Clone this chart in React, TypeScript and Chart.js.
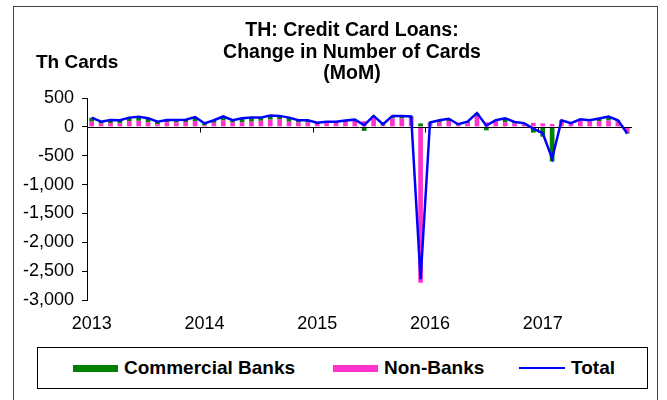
import React, { useEffect, useRef } from "react";
import { Chart, registerables } from "chart.js";

Chart.register(...registerables);

const YEARS = ["2013", "2014", "2015", "2016", "2017"];
const MONTHS = ["Jan", "Feb", "Mar", "Apr", "May", "Jun", "Jul", "Aug", "Sep", "Oct", "Nov", "Dec"];
const LAST_MONTH_2017 = 10;

const CATEGORIES: string[] = [];
YEARS.forEach((yr, yi) => {
  const n = yi === YEARS.length - 1 ? LAST_MONTH_2017 : 12;
  for (let m = 0; m < n; m++) CATEGORIES.push(`${MONTHS[m]} ${yr}`);
});

// Th Cards, month-on-month change
const COMMERCIAL = [
  70, 35, 55, 55, 60, 70, 70, 45, 40, 45, 40, 70,
  35, 45, 70, 40, 70, 70, 55, 70, 55, 70, 40, 40,
  20, 20, 20, 25, 20, -70, 40, 20, 45, 45, 25, 60,
  20, 40, 40, 20, 30, 50, -60, 20, 70, 25, 20, -100,
  -170, -600, 30, 10, 20, 20, 45, 70, 20, -20,
];
const NON_BANKS = [
  90, 55, 65, 60, 100, 105, 80, 45, 80, 75, 85, 100,
  25, 70, 110, 75, 80, 90, 105, 125, 135, 90, 75, 75,
  50, 70, 70, 85, 105, 100, 150, 25, 145, 145, 155, -2700,
  55, 75, 100, 25, 60, 190, 80, 95, 80, 60, 45, 70,
  60, 50, 85, 55, 110, 95, 100, 110, 95, -95,
];
const TOTAL = [
  160, 90, 120, 115, 160, 175, 150, 90, 120, 120, 125, 170,
  60, 115, 180, 115, 150, 160, 160, 195, 190, 160, 115, 115,
  70, 90, 90, 110, 125, 30, 190, 45, 190, 190, 180, -2640,
  75, 115, 140, 45, 90, 240, 20, 115, 150, 85, 65, -30,
  -110, -550, 115, 65, 130, 115, 145, 180, 115, -115,
];

const Y_MIN = -3000;
const Y_MAX = 500;
const Y_STEP = 500;

const TITLE_LINES = ["TH: Credit Card Loans:", "Change in Number of Cards", "(MoM)"];
const Y_UNIT = "Th Cards";

const GREEN = "#008000";
const PINK = "#FF33CC";
const BLUE = "#0000FF";
const FONT = "'Liberation Sans', Arial, sans-serif";

const zeroAxisPlugin = {
  id: "zeroAxis",
  afterDatasetDraw(chart: any, args: any) {
    if (args.index !== 1) return;
    const { ctx, chartArea, scales } = chart;
    const x = scales.x;
    const y = scales.y;
    const y0 = Math.round(y.getPixelForValue(0)) + 0.5;
    ctx.save();
    ctx.strokeStyle = "#000";
    ctx.lineWidth = 1;
    ctx.beginPath();
    ctx.moveTo(chartArea.left, y0);
    ctx.lineTo(chartArea.right, y0);
    for (let i = 12; i < CATEGORIES.length; i += 12) {
      const px = Math.round((x.getPixelForValue(i - 1) + x.getPixelForValue(i)) / 2) + 0.5;
      ctx.moveTo(px, y0);
      ctx.lineTo(px, y0 + 5);
    }
    ctx.stroke();
    ctx.restore();
  },
};

function ChartCanvas() {
  const ref = useRef<HTMLCanvasElement>(null);
  useEffect(() => {
    if (!ref.current) return;
    const chart = new Chart(ref.current, {
      type: "bar",
      data: {
        labels: CATEGORIES,
        datasets: [
          {
            type: "bar",
            label: "Commercial Banks",
            data: COMMERCIAL,
            backgroundColor: GREEN,
            barPercentage: 0.5,
            categoryPercentage: 1,
            order: 3,
          },
          {
            type: "bar",
            label: "Non-Banks",
            data: NON_BANKS,
            backgroundColor: PINK,
            barPercentage: 0.5,
            categoryPercentage: 1,
            order: 2,
          },
          {
            type: "line",
            label: "Total",
            data: TOTAL,
            borderColor: BLUE,
            borderWidth: 2.5,
            pointRadius: 0,
            tension: 0,
            fill: false,
            order: 1,
            stack: "total",
          } as any,
        ],
      },
      options: {
        animation: false,
        responsive: false,
        devicePixelRatio: 1,
        layout: { padding: { left: 0, right: 35, top: 98, bottom: 0 } },
        plugins: { legend: { display: false }, title: { display: false }, tooltip: { enabled: false } },
        scales: {
          x: {
            stacked: true,
            offset: true,
            grid: { display: false },
            border: { display: false },
            ticks: {
              autoSkip: false,
              maxRotation: 0,
              padding: 5,
              color: "#000",
              font: { family: FONT, size: 18 },
              callback: (_v: any, i: number) => (i % 12 === 0 ? YEARS[i / 12] : null),
            },
            afterFit: (s: any) => {
              s.height = 100;
            },
          },
          y: {
            stacked: true,
            min: Y_MIN,
            max: Y_MAX,
            ticks: {
              stepSize: Y_STEP,
              color: "#000",
              padding: 8,
              font: { family: FONT, size: 18 },
              callback: (v: any) => Number(v).toLocaleString("en-US"),
            },
            grid: { drawOnChartArea: false, tickLength: 5, color: "#000" },
            border: { color: "#000" },
            afterFit: (s: any) => {
              s.width = 87;
            },
          },
        },
      },
      plugins: [zeroAxisPlugin],
    });
    return () => chart.destroy();
  }, []);
  return (
    <canvas
      ref={ref}
      width={667}
      height={400}
      style={{ position: "absolute", left: 0, top: 0, width: 667, height: 400 }}
    />
  );
}

const legendText: React.CSSProperties = {
  position: "absolute",
  top: 0,
  lineHeight: "40px",
  fontWeight: "bold",
  fontSize: 19,
  fontFamily: FONT,
  color: "#000",
  whiteSpace: "nowrap",
};

export default function App() {
  return (
    <div
      style={{
        position: "fixed",
        left: 0,
        top: 0,
        width: 667,
        height: 400,
        background: "#fff",
        overflow: "hidden",
        fontFamily: FONT,
      }}
    >
      <div
        style={{
          position: "absolute",
          left: 13,
          top: 6,
          width: 645,
          height: 400,
          border: "1px solid #444",
          boxSizing: "border-box",
        }}
      />
      <ChartCanvas />
      <div
        style={{
          position: "absolute",
          left: 0,
          top: 19,
          width: 704,
          textAlign: "center",
          fontWeight: "bold",
          fontSize: 19.5,
          lineHeight: "21.5px",
          color: "#000",
        }}
      >
        {TITLE_LINES.map((t) => (
          <div key={t}>{t}</div>
        ))}
      </div>
      <div
        style={{
          position: "absolute",
          left: 36,
          top: 51,
          fontWeight: "bold",
          fontSize: 19,
          lineHeight: "22px",
          color: "#000",
        }}
      >
        {Y_UNIT}
      </div>
      <div
        style={{
          position: "absolute",
          left: 37,
          top: 347,
          width: 611,
          height: 42,
          border: "1px solid #000",
          boxSizing: "border-box",
          background: "#fff",
        }}
      >
        <div style={{ position: "absolute", left: 35, top: 17, width: 45, height: 7, background: GREEN }} />
        <div style={{ ...legendText, left: 86 }}>Commercial Banks</div>
        <div style={{ position: "absolute", left: 295, top: 17, width: 45, height: 7, background: PINK }} />
        <div style={{ ...legendText, left: 346 }}>Non-Banks</div>
        <div style={{ position: "absolute", left: 481, top: 19, width: 46, height: 2, background: BLUE }} />
        <div style={{ ...legendText, left: 533 }}>Total</div>
      </div>
    </div>
  );
}
